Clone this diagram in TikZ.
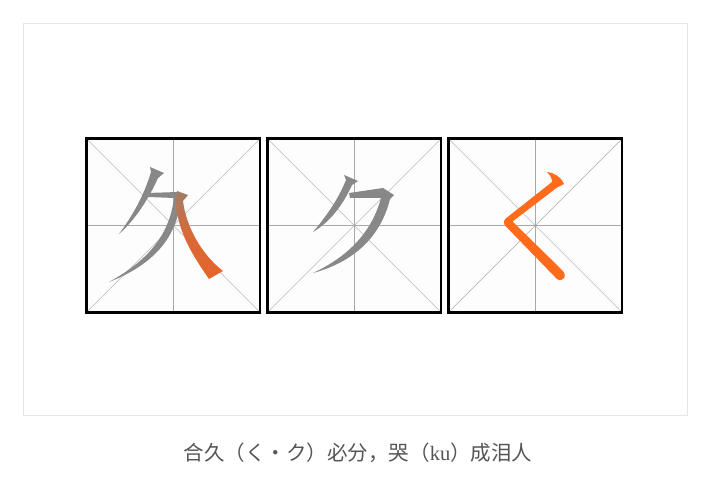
\documentclass[tikz,border=0pt]{standalone}
\usepackage{fontspec}
\newfontfamily\cjk{Noto Sans CJK SC}
\newfontfamily\latinserif{Liberation Serif}
\definecolor{panelline}{HTML}{E6E6E6}
\definecolor{guide}{HTML}{A8A8A8}
\definecolor{diag}{HTML}{B8B8B8}
\definecolor{boxfill}{HTML}{FDFDFD}
\definecolor{stk}{HTML}{888888}
\definecolor{hl}{HTML}{FF6B1A}
\definecolor{hldark}{HTML}{E4652C}
\definecolor{hltop}{HTML}{A07D68}
\definecolor{captext}{HTML}{555555}
\tikzset{
  panel/.style={draw=panelline,line width=0.8pt,fill=white,minimum width=664pt,minimum height=392pt,inner sep=0pt},
  cell/.style={fill=boxfill,minimum size=173.5pt,inner sep=0pt},
  frame/.style={draw=black,line width=2.5pt},
  guideline/.style={draw=guide,line width=0.8pt},
  diagline/.style={draw=diag,line width=0.7pt},
  grey stroke/.style={fill=stk,draw=none},
  hl stroke/.style={fill=hl,draw=none},
  captiontext/.style={font=\cjk\fontsize{20.5}{24}\selectfont,text=captext,inner sep=0pt}
}
\begin{document}
\begin{tikzpicture}[x=1pt,y=-1pt]
\useasboundingbox (0,0) rectangle (710,500);
\fill[white] (0,0) rectangle (710,500);
\node[panel] (panel) at (355,219) {};
% cells
\foreach \n/\cx in {b1/173.25,b2/354.25,b3/535.25}{
  \node[cell] (\n) at (\cx,225.5) {};
  \draw[diagline] (\n.north west) -- (\n.south east);
  \draw[diagline] (\n.north east) -- (\n.south west);
  \draw[guideline] (\n.north) -- (\n.south);
  \draw[guideline] (\n.west) -- (\n.east);
}
% character 1: 久
\fill[grey stroke] (150,167) -- (164,173) -- (158,178)
   .. controls (148,200) and (135,220) .. (119,234)
   .. controls (131,218) and (144,196) .. (151,172) -- cycle;
\fill[grey stroke] (147,193) -- (178,192) -- (181,196)
   .. controls (178,240) and (150,266) .. (109,282)
   .. controls (145,262) and (169,238) .. (174,198)
   -- (148,197) -- cycle;
\shade[top color=hltop,bottom color=hldark,middle color=hldark!85!hltop]
   (177,191) -- (188,195) -- (183,201)
   .. controls (186,226) and (201,254) .. (223,271)
   -- (209,279)
   .. controls (196,260) and (179,236) .. (176,205) -- cycle;
% character 2: ク
\fill[grey stroke] (344,175) -- (358,181) -- (352,185)
   .. controls (343,205) and (330,222) .. (313,232)
   .. controls (325,218) and (338,200) .. (346,180) -- cycle;
\fill[grey stroke] (349,193) -- (383,188) -- (394,195) -- (390,199)
   .. controls (380,240) and (350,263) .. (313,273)
   .. controls (345,258) and (371,235) .. (381,198)
   -- (350,198) -- cycle;
% character 3: く
\fill[hl stroke] (547,172) .. controls (555,173) and (561,177) .. (564,184)
   -- (557,187.5) -- (512.5,221.5) -- (562,270)
   .. controls (565,273) and (566,277) .. (563,279)
   .. controls (560,281) and (557,280) .. (555,277)
   -- (505,225.5) .. controls (503,222.5) and (504,219.5) .. (507,217.5)
   -- (552,182) .. controls (552,178) and (550,175) .. (547,172) -- cycle;
% frames
\foreach \n in {b1,b2,b3}{
  \draw[frame] (\n.north west) rectangle (\n.south east);
}
% caption
\node[captiontext] (caption) at (358,453) {合久（く・ク）必分，哭（{\latinserif ku}）成泪人};
\end{tikzpicture}
\end{document}
